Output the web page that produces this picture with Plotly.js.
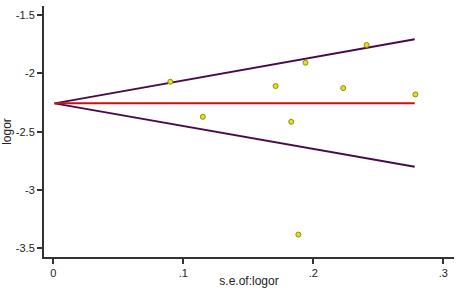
<!DOCTYPE html>
<html><head><meta charset="utf-8">
<script src="https://cdn.plot.ly/plotly-3.0.1.min.js"></script>
<style>html,body{margin:0;padding:0;background:#fff}#c{width:459px;height:288px}</style>
</head><body><div id="c"></div>
<script>
// study points
const se = [0.090, 0.171, 0.115, 0.183, 0.194, 0.241, 0.223, 0.2785, 0.1885];
const logor = [-2.072, -2.109, -2.372, -2.415, -1.909, -1.757, -2.126, -2.180, -3.381];
// pooled estimate and pseudo-confidence limits (endpoints)
const lineX = [0.001, 0.278];
const pooled = [-2.257, -2.257];
const upper = [-2.257, -1.708];
const lower = [-2.257, -2.800];
const xTicks = [0, 0.1, 0.2, 0.3];
const xTickText = ["0", ".1", ".2", ".3"];
const yTicks = [-3.5, -3, -2.5, -2, -1.5];
const yTickText = ["-3.5", "-3", "-2.5", "-2", "-1.5"];

const ciLine = {color: '#4a0a4a', width: 2};
const traces = [
  {x: lineX, y: upper, mode: 'lines', line: ciLine, hoverinfo: 'none'},
  {x: lineX, y: lower, mode: 'lines', line: ciLine, hoverinfo: 'none'},
  {x: lineX, y: pooled, mode: 'lines', line: {color: '#cc1111', width: 2}, hoverinfo: 'none'},
  {x: se, y: logor, mode: 'markers', marker: {size: 5, color: '#e5e01a', line: {color: '#8c8c10', width: 1}}}
];
const font = {family: 'Liberation Sans, Arial, sans-serif', size: 11, color: '#222'};
const layout = {
  width: 459, height: 288,
  margin: {l: 44, r: 5, t: 6, b: 31},
  showlegend: false,
  paper_bgcolor: '#fff', plot_bgcolor: '#fff',
  font: font,
  xaxis: {
    range: [-0.00715, 0.3082], showgrid: false, zeroline: false,
    showline: true, linecolor: '#333', linewidth: 2,
    ticks: 'outside', ticklen: 5, tickwidth: 2, tickcolor: '#333',
    tickvals: xTicks, ticktext: xTickText, ticklabelstandoff: 0,
    title: {text: 's.e.of:logor', font: {size: 12, family: font.family, color: '#222'}, standoff: 0}
  },
  yaxis: {
    range: [-3.573, -1.423], showgrid: false, zeroline: false,
    showline: true, linecolor: '#333', linewidth: 2,
    ticks: 'outside', ticklen: 5, tickwidth: 2, tickcolor: '#333',
    tickvals: yTicks, ticktext: yTickText,
    title: {text: 'logor', font: {size: 12, family: font.family, color: '#222'}, standoff: 6}
  }
};
Plotly.newPlot('c', traces, layout, {staticPlot: true});
</script></body></html>
